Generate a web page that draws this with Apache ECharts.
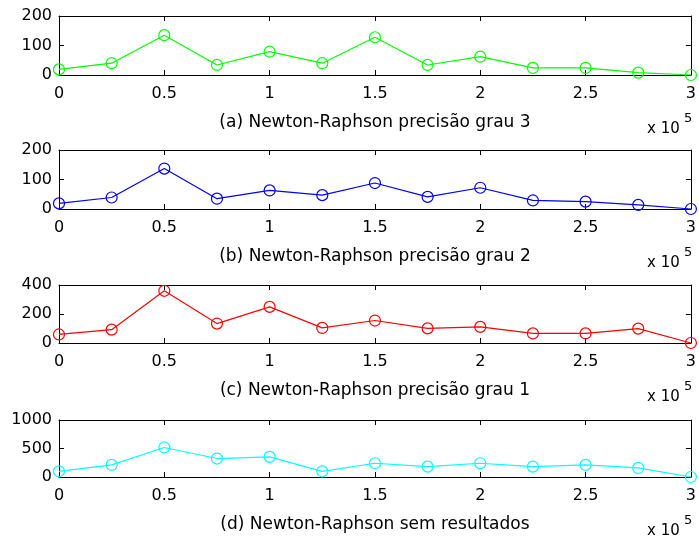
<!DOCTYPE html>
<html>
<head>
<meta charset="utf-8">
<script src="https://cdn.jsdelivr.net/npm/echarts@6/dist/echarts.min.js"></script>
<style>html,body{margin:0;padding:0;background:#fff}#c{width:699px;height:539px}</style>
</head>
<body>
<div id="c"></div>
<script>
// x positions (in units, shown scaled by 10^5)
var xValues = [0, 25000, 50000, 75000, 100000, 125000, 150000, 175000, 200000, 225000, 250000, 275000, 300000];
var grau3 = [19, 40, 135, 34, 79, 40, 128, 34, 62, 24, 24, 8, 0];
var grau2 = [19, 39, 137, 35, 63, 47, 88, 41, 72, 29, 25, 14, 0];
var grau1 = [59, 92, 360, 134, 249, 104, 155, 101, 111, 66, 66, 99, 0];
var semRes = [100, 212, 518, 324, 353, 100, 241, 182, 241, 182, 212, 159, 0];
var captions = [
  '(a) Newton-Raphson precisão grau 3',
  '(b) Newton-Raphson precisão grau 2',
  '(c) Newton-Raphson precisão grau 1',
  '(d) Newton-Raphson sem resultados'
];
var yMax = [200, 200, 400, 1000];
var yStep = [100, 100, 200, 500];
var colors = ['#00ff00', '#0000ff', '#ff0000', '#00ffff'];
var seriesData = [grau3, grau2, grau1, semRes];

var tops = [16, 150, 285, 420];
var heights = [59, 59, 58, 57];
var FONT = 'DejaVu Sans';

function axisCommon() {
  return {
    axisLine: {show: true, onZero: false, lineStyle: {color: '#000', width: 1}},
    axisTick: {show: true, inside: true, length: 5, lineStyle: {color: '#000'}},
    splitLine: {show: false}
  };
}

var grids = [], xAxes = [], yAxes = [], series = [], graphics = [];
for (var i = 0; i < 4; i++) {
  grids.push({left: 59, right: 8, top: tops[i], height: heights[i], containLabel: false});
  xAxes.push(Object.assign(axisCommon(), {
    type: 'value', gridIndex: i, min: 0, max: 300000, interval: 50000, position: 'bottom',
    axisLabel: {color: '#000', fontFamily: FONT, fontSize: 16, margin: 11,
      formatter: function (v) { return String(v / 100000); }},
    name: captions[i], nameLocation: 'middle', nameGap: 39,
    nameTextStyle: {color: '#000', fontFamily: FONT, fontSize: 17}
  }));
  xAxes.push(Object.assign(axisCommon(), {
    type: 'value', gridIndex: i, min: 0, max: 300000, interval: 50000, position: 'top',
    axisLabel: {show: false}
  }));
  yAxes.push(Object.assign(axisCommon(), {
    type: 'value', gridIndex: i, min: 0, max: yMax[i], interval: yStep[i], position: 'left',
    axisLabel: {color: '#000', fontFamily: FONT, fontSize: 16, margin: 7,
      formatter: function (v) { return String(v); }}
  }));
  yAxes.push(Object.assign(axisCommon(), {
    type: 'value', gridIndex: i, min: 0, max: yMax[i], interval: yStep[i], position: 'right',
    axisLabel: {show: false}
  }));
  var pts = [];
  for (var k = 0; k < xValues.length; k++) pts.push([xValues[k], seriesData[i][k]]);
  series.push({
    type: 'line', xAxisIndex: 2 * i, yAxisIndex: 2 * i, data: pts,
    symbol: 'circle', symbolSize: 11, showAllSymbol: true, clip: false,
    lineStyle: {color: colors[i], width: 1.2},
    itemStyle: {color: 'rgba(0,0,0,0)', borderColor: colors[i], borderWidth: 1.2},
    emphasis: {disabled: true}, animation: false
  });
  var base = tops[i] + heights[i];
  graphics.push({type: 'text', left: 647, top: base + 47,
    style: {text: 'x 10', fontFamily: FONT, fontSize: 15, fill: '#000'}});
  graphics.push({type: 'text', left: 684, top: base + 37,
    style: {text: '5', fontFamily: FONT, fontSize: 13, fill: '#000'}});
}

var chart = echarts.init(document.getElementById('c'), null, {renderer: 'canvas'});
chart.setOption({
  animation: false,
  grid: grids, xAxis: xAxes, yAxis: yAxes, series: series, graphic: graphics
});
</script>
</body>
</html>
